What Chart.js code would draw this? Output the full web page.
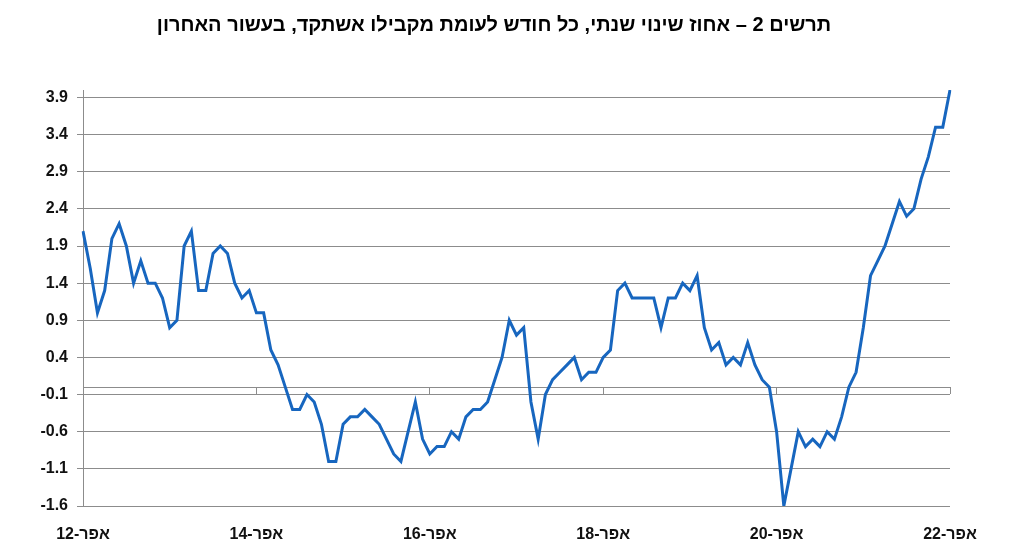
<!DOCTYPE html>
<html>
<head>
<meta charset="utf-8">
<script src="https://cdn.jsdelivr.net/npm/chart.js@4"></script>
<style>
  body { margin: 0; background: #fff; }
</style>
</head>
<body>
<canvas id="chart" width="1032" height="551"></canvas>
<script>
// כותרת
const chartTitle = 'תרשים 2 – אחוז שינוי שנתי, כל חודש לעומת מקבילו אשתקד, בעשור האחרון';

// חודשים ושנים (אפר-12 עד אפר-22)
const monthNames = ['ינו', 'פבר', 'מרץ', 'אפר', 'מאי', 'יונ', 'יול', 'אוג', 'ספט', 'אוק', 'נוב', 'דצמ'];
const startYear = 12;
const startMonth = 3;   // אפריל
const monthCount = 121;

// אחוז שינוי שנתי
const yearlyChange = [
    2.1, 1.6, 1.0, 1.3, 2.0, 2.2, 1.9, 1.4, 1.7, 1.4, 1.4, 1.2,
    0.8, 0.9, 1.9, 2.1, 1.3, 1.3, 1.8, 1.9, 1.8, 1.4, 1.2, 1.3,
    1.0, 1.0, 0.5, 0.3, 0.0, -0.3, -0.3, -0.1, -0.2, -0.5, -1.0, -1.0,
    -0.5, -0.4, -0.4, -0.3, -0.4, -0.5, -0.7, -0.9, -1.0, -0.6, -0.2, -0.7,
    -0.9, -0.8, -0.8, -0.6, -0.7, -0.4, -0.3, -0.3, -0.2, 0.1, 0.4, 0.9,
    0.7, 0.8, -0.2, -0.7, -0.1, 0.1, 0.2, 0.3, 0.4, 0.1, 0.2, 0.2,
    0.4, 0.5, 1.3, 1.4, 1.2, 1.2, 1.2, 1.2, 0.8, 1.2, 1.2, 1.4,
    1.3, 1.5, 0.8, 0.5, 0.6, 0.3, 0.4, 0.3, 0.6, 0.3, 0.1, 0.0,
    -0.6, -1.6, -1.1, -0.6, -0.8, -0.7, -0.8, -0.6, -0.7, -0.4, 0.0, 0.2,
    0.8, 1.5, 1.7, 1.9, 2.2, 2.5, 2.3, 2.4, 2.8, 3.1, 3.5, 3.5,
    4.0
];

// שנתות ציר Y
const yTicks = [-1.6, -1.1, -0.6, -0.1, 0.4, 0.9, 1.4, 1.9, 2.4, 2.9, 3.4, 3.9];
const yMin = -1.6;
const yMax = 4.0;
const labelEvery = 24; // תווית כל שנתיים

const labels = [];
for (let i = 0; i < monthCount; i++) {
    const m = (startMonth + i) % 12;
    const y = startYear + Math.floor((startMonth + i) / 12);
    labels.push(monthNames[m] + '-' + y);
}

const gridColor = '#8c8c8c';
const fontFamily = "'Liberation Sans', Arial, sans-serif";

const ctx = document.getElementById('chart').getContext('2d');

new Chart(ctx, {
    type: 'line',
    data: {
        labels: labels,
        datasets: [
            {
                label: chartTitle,
                data: yearlyChange,
                borderColor: '#1766bf',
                borderWidth: 3,
                pointRadius: 0,
                tension: 0,
                fill: false
            }
        ]
    },
    options: {
        responsive: false,
        animation: false,
        layout: {
            padding: { left: 0, right: 44, top: 0, bottom: 0 }
        },
        plugins: {
            legend: { display: false },
            tooltip: { enabled: false },
            title: {
                display: true,
                text: chartTitle,
                color: '#000',
                font: { family: fontFamily, size: 20, weight: 'bold', lineHeight: 1.2 },
                padding: { top: 13, bottom: 53 }
            }
        },
        scales: {
            x: {
                type: 'category',
                grid: { display: false },
                border: { display: false },
                ticks: {
                    autoSkip: false,
                    maxRotation: 0,
                    padding: 11,
                    color: '#111',
                    font: { family: fontFamily, size: 16, weight: 'bold' },
                    callback: (v, i) => (i % labelEvery === 0 ? labels[i] : '')
                },
                afterFit: scale => { scale.height = 45; }
            },
            // ציר האפס עם שנתות
            x2: {
                type: 'category',
                axis: 'x',
                position: { y: 0 },
                grid: {
                    drawOnChartArea: false,
                    drawTicks: true,
                    tickLength: 6,
                    color: c => (c.index % labelEvery === 0 ? gridColor : 'rgba(0,0,0,0)')
                },
                border: { display: true, color: gridColor, width: 1 },
                ticks: { display: false, autoSkip: false }
            },
            y: {
                min: yMin,
                max: yMax,
                afterBuildTicks: scale => {
                    scale.ticks = yTicks.map(v => ({ value: v }));
                },
                afterFit: scale => { scale.width = 83; },
                grid: {
                    color: gridColor,
                    lineWidth: 1,
                    drawTicks: true,
                    tickLength: 6
                },
                border: { display: true, color: gridColor, width: 1 },
                ticks: {
                    padding: 9,
                    color: '#111',
                    font: { family: fontFamily, size: 16, weight: 'bold' },
                    callback: v => v.toFixed(1)
                }
            },
            // ריווח בצד ימין
            yRight: {
                type: 'linear',
                position: 'right',
                grid: { display: false },
                border: { display: false },
                ticks: { display: false },
                afterFit: scale => { scale.width = 38; }
            }
        }
    }
});
</script>
</body>
</html>
